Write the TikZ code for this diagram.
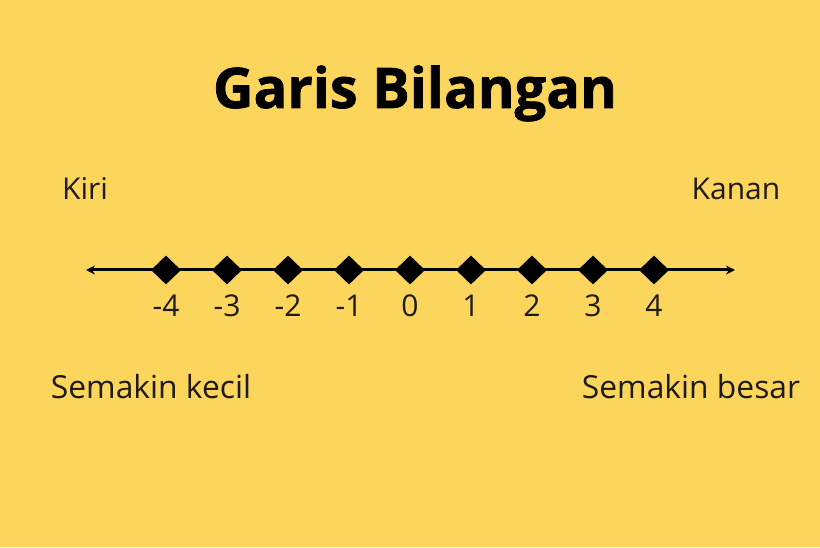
\documentclass[tikz,border=0pt]{standalone}
\usepackage{fontspec}
\setmainfont{Open Sans}
\newfontfamily\titlefont[BoldFeatures={FakeBold=1.2}]{Open Sans}
\usetikzlibrary{shapes.geometric,arrows.meta}
\definecolor{bg}{HTML}{FCD65C}
\definecolor{ink}{HTML}{1E1A17}
\tikzset{
  lbl/.style={anchor=base, text=ink, inner sep=0pt, font=\fontsize{30}{36}\selectfont},
  lblb/.style={anchor=base, text=ink, inner sep=0pt, font=\fontsize{31.8}{38}\selectfont},
  num/.style={anchor=base, text=ink, inner sep=0pt, font=\fontsize{30}{36}\selectfont},
  tick/.style={diamond, fill=black, inner sep=0pt, minimum width=30pt, minimum height=29pt},
  axis/.style={line width=3pt, black, {Stealth[length=9pt,width=9pt]}-{Stealth[length=9pt,width=9pt]}}
}
\begin{document}
\begin{tikzpicture}[x=1pt,y=1pt]
\fill[bg] (0,0) rectangle (820,547);
\useasboundingbox (0,0) rectangle (820,547);
\node[anchor=base, inner sep=0pt, font=\titlefont\bfseries\fontsize{56}{66}\selectfont] (title) at (415,439) {Garis Bilangan};
\node[lbl] (kiri) at (85,347) {Kiri};
\node[lbl] (kanan) at (736,347) {Kanan};
\node[lblb] (kecil) at (151,149) {Semakin kecil};
\node[lblb] (besar) at (691,149) {Semakin besar};
\coordinate (L) at (86,277);
\coordinate (R) at (735,277);
\draw[axis] (L) -- (R);
\foreach \v [count=\i from 0] in {-4,-3,-2,-1,0,1,2,3,4} {
  \node[tick] (d\i) at ({166+61*\i},277) {};
  \node[num] (n\i) at ({166+61*\i},230) {\v};
}
\end{tikzpicture}
\end{document}
